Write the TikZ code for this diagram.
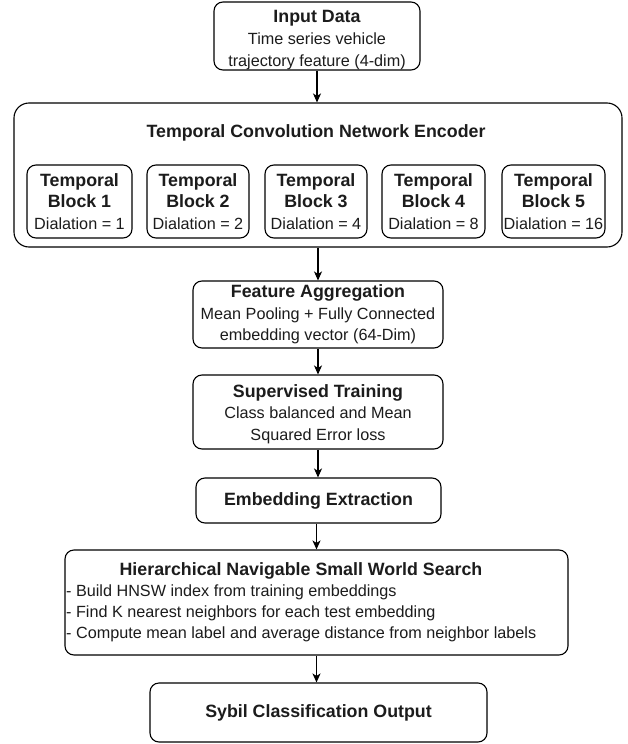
\documentclass[tikz,border=0pt]{standalone}
\usepackage{fontspec}
\setmainfont{Liberation Sans}
\usetikzlibrary{arrows.meta}
\definecolor{txt}{HTML}{1C1C1C}
\newcommand\hdr[1]{{\fontsize{17.8}{21.5}\selectfont\bfseries #1}}
\begin{document}
\begin{tikzpicture}[x=1pt,y=-1pt,
  box/.style={draw=black, line width=1.1pt, rounded corners=9pt, fill=white, text=txt,
    align=center, inner sep=0pt, font=\fontsize{16.2}{21.5}\selectfont},
  arr/.style={-{Stealth[length=9pt,width=8pt,inset=2.5pt]}, line width=1.1pt, draw=black},
  plain/.style={text=txt, inner sep=0pt, font=\fontsize{16.2}{21}\selectfont}
]
\useasboundingbox (0,0) rectangle (628,744);

\node[box, minimum width=206pt, minimum height=68pt] (inp) at (317,36) {};
\node[plain, align=center, font=\fontsize{16.2}{22}\selectfont] (inptext) at (317,40)
  {\hdr{Input Data}\\Time series vehicle\\trajectory feature (4-dim)};

\node[box, rounded corners=15pt, minimum width=608pt, minimum height=144pt] (tcn) at (318,175) {};
\node[plain] (tcntitle) at (316,133) {\hdr{Temporal Convolution Network Encoder}};

\node[box, minimum width=105pt, minimum height=73pt] (b1) at (79.5,201.5)
  {\hdr{Temporal}\\\hdr{Block 1}\\Dialation = 1};
\node[box, minimum width=102pt, minimum height=73pt] (b2) at (198,201.5)
  {\hdr{Temporal}\\\hdr{Block 2}\\Dialation = 2};
\node[box, minimum width=102pt, minimum height=73pt] (b3) at (316,201.5)
  {\hdr{Temporal}\\\hdr{Block 3}\\Dialation = 4};
\node[box, minimum width=103pt, minimum height=73pt] (b4) at (433.5,201.5)
  {\hdr{Temporal}\\\hdr{Block 4}\\Dialation = 8};
\node[box, minimum width=103pt, minimum height=73pt] (b5) at (553.5,201.5)
  {\hdr{Temporal}\\\hdr{Block 5}\\Dialation = 16};

\node[box, minimum width=250pt, minimum height=67pt] (fa) at (318,314.5)
  {\hdr{Feature Aggregation}\\Mean Pooling + Fully Connected\\embedding vector (64-Dim)};

\node[box, minimum width=250pt, minimum height=74pt] (st) at (318,412) {};
\node[plain, align=center, font=\fontsize{16.2}{21.5}\selectfont] (sttext) at (318,414)
  {\hdr{Supervised Training}\\Class balanced and Mean\\Squared Error loss};

\node[box, minimum width=245pt, minimum height=45pt] (ee) at (318.5,500.5)
  {\hdr{Embedding Extraction}};

\node[box, minimum width=503pt, minimum height=105pt] (hnsw) at (316.5,602.5) {};
\node[plain] (hnswtitle) at (301,571) {\hdr{Hierarchical Navigable Small World Search}};
\node[plain, anchor=west, align=left] (hnswlist) at (66,613)
  {- Build HNSW index from training embeddings\\
   - Find K nearest neighbors for each test embedding\\
   - Compute mean label and average distance from neighbor labels};

\node[box, minimum width=337pt, minimum height=59pt] (out) at (318.5,712.5)
  {\hdr{Sybil Classification Output}};

\draw[arr] (inp.south) -- (inp.south |- tcn.north);
\draw[arr] (tcn.south -| fa.north) -- (fa.north);
\draw[arr] (fa.south) -- (st.north);
\draw[arr] (st.south) -- (st.south |- ee.north);
\draw[arr] (ee.south -| hnsw.north) -- (hnsw.north);
\draw[arr] (hnsw.south) -- (hnsw.south |- out.north);
\end{tikzpicture}
\end{document}
